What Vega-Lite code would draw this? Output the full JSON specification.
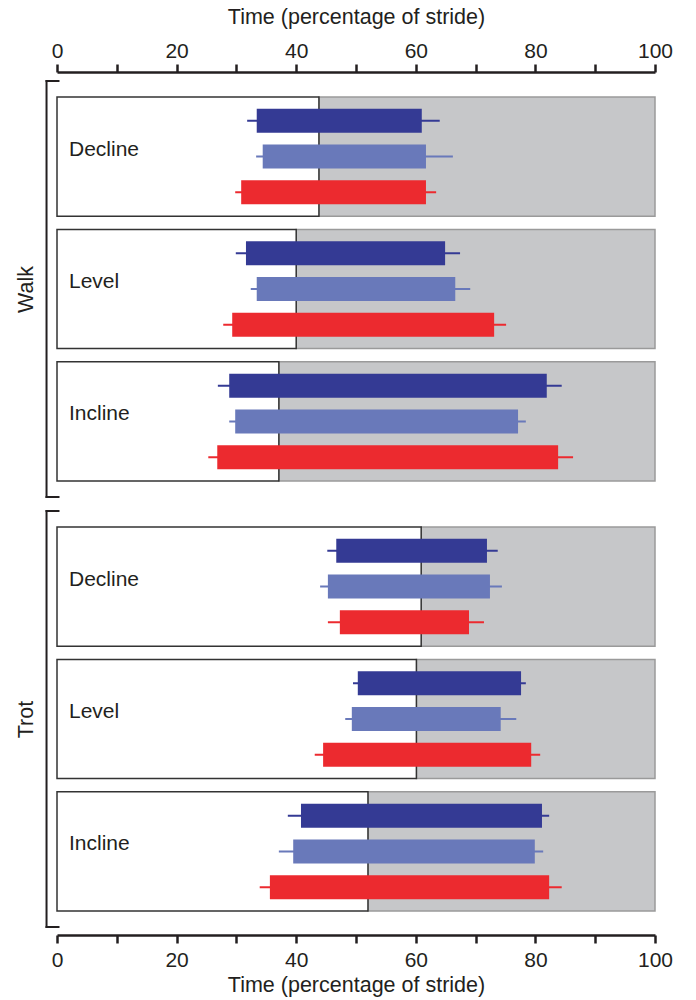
{
  "$schema": "https://vega.github.io/schema/vega-lite/v6.json",
  "padding": {"left": 15, "top": 6, "right": 5, "bottom": 5},
  "spacing": 10,
  "resolve": {"scale": {"yOffset": "independent"}},
  "config": {
    "view": {"stroke": null},
    "font": "Liberation Sans",
    "axis": {
      "grid": false,
      "domainColor": "#231F20",
      "domainWidth": 2.5,
      "tickColor": "#231F20",
      "tickWidth": 2.5,
      "tickSize": 8,
      "labelFont": "Liberation Sans",
      "labelFontSize": 21,
      "labelColor": "#231F20",
      "titleFont": "Liberation Sans",
      "titleFontSize": 21.5,
      "titleFontWeight": "normal",
      "titleColor": "#231F20"
    }
  },
  "datasets": {
    "panels": [
      {"gait": "Walk", "cond": "Decline", "stance": 43.8},
      {"gait": "Walk", "cond": "Level", "stance": 40.0},
      {"gait": "Walk", "cond": "Incline", "stance": 37.1},
      {"gait": "Trot", "cond": "Decline", "stance": 60.9},
      {"gait": "Trot", "cond": "Level", "stance": 60.1},
      {"gait": "Trot", "cond": "Incline", "stance": 52.0}
    ],
    "bars": [
      {"gait": "Walk", "cond": "Decline", "series": "1", "start": 33.4, "end": 61.0, "lo": 31.8, "hi": 64.0},
      {"gait": "Walk", "cond": "Decline", "series": "2", "start": 34.4, "end": 61.7, "lo": 33.3, "hi": 66.2},
      {"gait": "Walk", "cond": "Decline", "series": "3", "start": 30.8, "end": 61.7, "lo": 29.8, "hi": 63.4},
      {"gait": "Walk", "cond": "Level", "series": "1", "start": 31.6, "end": 64.9, "lo": 29.9, "hi": 67.4},
      {"gait": "Walk", "cond": "Level", "series": "2", "start": 33.4, "end": 66.6, "lo": 32.4, "hi": 69.1},
      {"gait": "Walk", "cond": "Level", "series": "3", "start": 29.3, "end": 73.1, "lo": 27.8, "hi": 75.1},
      {"gait": "Walk", "cond": "Incline", "series": "1", "start": 28.8, "end": 81.9, "lo": 26.9, "hi": 84.4},
      {"gait": "Walk", "cond": "Incline", "series": "2", "start": 29.8, "end": 77.1, "lo": 28.8, "hi": 78.4},
      {"gait": "Walk", "cond": "Incline", "series": "3", "start": 26.8, "end": 83.8, "lo": 25.3, "hi": 86.3},
      {"gait": "Trot", "cond": "Decline", "series": "1", "start": 46.7, "end": 71.9, "lo": 45.2, "hi": 73.7},
      {"gait": "Trot", "cond": "Decline", "series": "2", "start": 45.3, "end": 72.4, "lo": 44.0, "hi": 74.4},
      {"gait": "Trot", "cond": "Decline", "series": "3", "start": 47.3, "end": 68.9, "lo": 45.3, "hi": 71.4},
      {"gait": "Trot", "cond": "Level", "series": "1", "start": 50.3, "end": 77.6, "lo": 49.5, "hi": 78.4},
      {"gait": "Trot", "cond": "Level", "series": "2", "start": 49.3, "end": 74.2, "lo": 48.2, "hi": 76.8},
      {"gait": "Trot", "cond": "Level", "series": "3", "start": 44.5, "end": 79.3, "lo": 43.1, "hi": 80.8},
      {"gait": "Trot", "cond": "Incline", "series": "1", "start": 40.8, "end": 81.1, "lo": 38.6, "hi": 82.3},
      {"gait": "Trot", "cond": "Incline", "series": "2", "start": 39.5, "end": 79.9, "lo": 37.1, "hi": 81.3},
      {"gait": "Trot", "cond": "Incline", "series": "3", "start": 35.6, "end": 82.3, "lo": 33.9, "hi": 84.4}
    ],
    "groups": [
      {"gait": "Walk"},
      {"gait": "Trot"}
    ]
  },
  "vconcat": [
    {
      "width": 598,
      "height": 416,
      "layer": [
        {
          "layer": [
            {
              "data": {"name": "panels"},
              "transform": [{"filter": "datum.gait === 'Walk'"}],
              "mark": {"type": "bar", "fill": "#C6C7C9", "stroke": "#9A9A9A", "strokeWidth": 1.5},
              "encoding": {
                "y": {"field": "cond", "type": "nominal", "sort": ["Decline", "Level", "Incline"], "scale": {"paddingInner": 0.1, "paddingOuter": 0.12}, "axis": null},
                "x": {
                  "field": "stance", "type": "quantitative", "title": "Time (percentage of stride)",
                  "scale": {"domain": [0, 100], "nice": false},
                  "axis": {
                    "orient": "top", "offset": 9, "values": [0, 10, 20, 30, 40, 50, 60, 70, 80, 90, 100],
                    "labelExpr": "datum.value % 20 === 0 ? datum.label : ''",
                    "labelFlush": false, "labelPadding": 3, "titlePadding": 12
                  }
                },
                "x2": {"datum": 100}
              }
            },
            {
              "data": {"name": "panels"},
              "transform": [{"filter": "datum.gait === 'Walk'"}],
              "mark": {"type": "bar", "fill": "#FFFFFF", "stroke": "#333333", "strokeWidth": 1.5},
              "encoding": {
                "y": {"field": "cond", "type": "nominal", "sort": ["Decline", "Level", "Incline"], "axis": null},
                "x": {"field": "stance", "type": "quantitative", "title": "Time (percentage of stride)"},
                "x2": {"datum": 0}
              }
            },
            {
              "data": {"name": "bars"},
              "transform": [{"filter": "datum.gait === 'Walk'"}],
              "mark": {"type": "bar", "height": 2},
              "encoding": {
                "y": {"field": "cond", "type": "nominal", "sort": ["Decline", "Level", "Incline"], "axis": null},
                "yOffset": {"field": "series", "type": "nominal", "scale": {"paddingInner": 0.3333, "paddingOuter": 0.3333}},
                "x": {"field": "lo", "type": "quantitative", "title": "Time (percentage of stride)"},
                "x2": {"field": "hi"},
                "color": {"field": "series", "type": "nominal", "scale": {"domain": ["1", "2", "3"], "range": ["#343A94", "#6979BA", "#EC2A2F"]}, "legend": null}
              }
            },
            {
              "data": {"name": "bars"},
              "transform": [{"filter": "datum.gait === 'Walk'"}],
              "mark": {"type": "bar"},
              "encoding": {
                "y": {"field": "cond", "type": "nominal", "sort": ["Decline", "Level", "Incline"], "axis": null},
                "yOffset": {"field": "series", "type": "nominal", "scale": {"paddingInner": 0.3333, "paddingOuter": 0.3333}},
                "x": {"field": "start", "type": "quantitative", "title": "Time (percentage of stride)"},
                "x2": {"field": "end"},
                "color": {"field": "series", "type": "nominal", "legend": null}
              }
            },
            {
              "data": {"name": "panels"},
              "transform": [{"filter": "datum.gait === 'Walk'"}],
              "mark": {"type": "text", "align": "left", "baseline": "middle", "dy": -7, "fontSize": 21, "color": "#231F20"},
              "encoding": {
                "y": {"field": "cond", "type": "nominal", "sort": ["Decline", "Level", "Incline"], "axis": null},
                "x": {"datum": 2, "type": "quantitative"},
                "text": {"field": "cond"}
              }
            }
          ]
        },
        {
          "data": {"name": "groups"},
          "transform": [{"filter": "datum.gait === 'Walk'"}],
          "layer": [
            {
              "mark": {"type": "rule", "strokeWidth": 2, "color": "#231F20", "strokeCap": "square"},
              "encoding": {
                "x": {"datum": -1.75, "type": "quantitative"},
                "y": {"datum": 0, "type": "quantitative", "scale": {"domain": [0, 1], "nice": false},
                      "axis": {"orient": "left", "title": "Walk", "labels": false, "ticks": false, "domain": false, "titlePadding": 20}},
                "y2": {"datum": 1}
              }
            },
            {
              "mark": {"type": "rule", "strokeWidth": 2, "color": "#231F20", "strokeCap": "square"},
              "encoding": {
                "x": {"datum": -1.75, "type": "quantitative"},
                "x2": {"datum": 0.25},
                "y": {"datum": 1, "type": "quantitative"}
              }
            },
            {
              "mark": {"type": "rule", "strokeWidth": 2, "color": "#231F20", "strokeCap": "square"},
              "encoding": {
                "x": {"datum": -1.75, "type": "quantitative"},
                "x2": {"datum": 0.25},
                "y": {"datum": 0, "type": "quantitative"}
              }
            }
          ]
        }
      ],
      "resolve": {"scale": {"y": "independent", "yOffset": "independent"}}
    },
    {
      "width": 598,
      "height": 416,
      "layer": [
        {
          "layer": [
            {
              "data": {"name": "panels"},
              "transform": [{"filter": "datum.gait === 'Trot'"}],
              "mark": {"type": "bar", "fill": "#C6C7C9", "stroke": "#9A9A9A", "strokeWidth": 1.5},
              "encoding": {
                "y": {"field": "cond", "type": "nominal", "sort": ["Decline", "Level", "Incline"], "scale": {"paddingInner": 0.1, "paddingOuter": 0.12}, "axis": null},
                "x": {
                  "field": "stance", "type": "quantitative", "title": "Time (percentage of stride)",
                  "scale": {"domain": [0, 100], "nice": false},
                  "axis": {
                    "orient": "bottom", "offset": 8, "values": [0, 10, 20, 30, 40, 50, 60, 70, 80, 90, 100],
                    "labelExpr": "datum.value % 20 === 0 ? datum.label : ''",
                    "labelFlush": false, "labelPadding": 6, "titlePadding": 4
                  }
                },
                "x2": {"datum": 100}
              }
            },
            {
              "data": {"name": "panels"},
              "transform": [{"filter": "datum.gait === 'Trot'"}],
              "mark": {"type": "bar", "fill": "#FFFFFF", "stroke": "#333333", "strokeWidth": 1.5},
              "encoding": {
                "y": {"field": "cond", "type": "nominal", "sort": ["Decline", "Level", "Incline"], "axis": null},
                "x": {"field": "stance", "type": "quantitative", "title": "Time (percentage of stride)"},
                "x2": {"datum": 0}
              }
            },
            {
              "data": {"name": "bars"},
              "transform": [{"filter": "datum.gait === 'Trot'"}],
              "mark": {"type": "bar", "height": 2},
              "encoding": {
                "y": {"field": "cond", "type": "nominal", "sort": ["Decline", "Level", "Incline"], "axis": null},
                "yOffset": {"field": "series", "type": "nominal", "scale": {"paddingInner": 0.3333, "paddingOuter": 0.3333}},
                "x": {"field": "lo", "type": "quantitative", "title": "Time (percentage of stride)"},
                "x2": {"field": "hi"},
                "color": {"field": "series", "type": "nominal", "scale": {"domain": ["1", "2", "3"], "range": ["#343A94", "#6979BA", "#EC2A2F"]}, "legend": null}
              }
            },
            {
              "data": {"name": "bars"},
              "transform": [{"filter": "datum.gait === 'Trot'"}],
              "mark": {"type": "bar"},
              "encoding": {
                "y": {"field": "cond", "type": "nominal", "sort": ["Decline", "Level", "Incline"], "axis": null},
                "yOffset": {"field": "series", "type": "nominal", "scale": {"paddingInner": 0.3333, "paddingOuter": 0.3333}},
                "x": {"field": "start", "type": "quantitative", "title": "Time (percentage of stride)"},
                "x2": {"field": "end"},
                "color": {"field": "series", "type": "nominal", "legend": null}
              }
            },
            {
              "data": {"name": "panels"},
              "transform": [{"filter": "datum.gait === 'Trot'"}],
              "mark": {"type": "text", "align": "left", "baseline": "middle", "dy": -7, "fontSize": 21, "color": "#231F20"},
              "encoding": {
                "y": {"field": "cond", "type": "nominal", "sort": ["Decline", "Level", "Incline"], "axis": null},
                "x": {"datum": 2, "type": "quantitative"},
                "text": {"field": "cond"}
              }
            }
          ]
        },
        {
          "data": {"name": "groups"},
          "transform": [{"filter": "datum.gait === 'Trot'"}],
          "layer": [
            {
              "mark": {"type": "rule", "strokeWidth": 2, "color": "#231F20", "strokeCap": "square"},
              "encoding": {
                "x": {"datum": -1.75, "type": "quantitative"},
                "y": {"datum": 0, "type": "quantitative", "scale": {"domain": [0, 1], "nice": false},
                      "axis": {"orient": "left", "title": "Trot", "labels": false, "ticks": false, "domain": false, "titlePadding": 20}},
                "y2": {"datum": 1}
              }
            },
            {
              "mark": {"type": "rule", "strokeWidth": 2, "color": "#231F20", "strokeCap": "square"},
              "encoding": {
                "x": {"datum": -1.75, "type": "quantitative"},
                "x2": {"datum": 0.25},
                "y": {"datum": 1, "type": "quantitative"}
              }
            },
            {
              "mark": {"type": "rule", "strokeWidth": 2, "color": "#231F20", "strokeCap": "square"},
              "encoding": {
                "x": {"datum": -1.75, "type": "quantitative"},
                "x2": {"datum": 0.25},
                "y": {"datum": 0, "type": "quantitative"}
              }
            }
          ]
        }
      ],
      "resolve": {"scale": {"y": "independent", "yOffset": "independent"}}
    }
  ]
}
